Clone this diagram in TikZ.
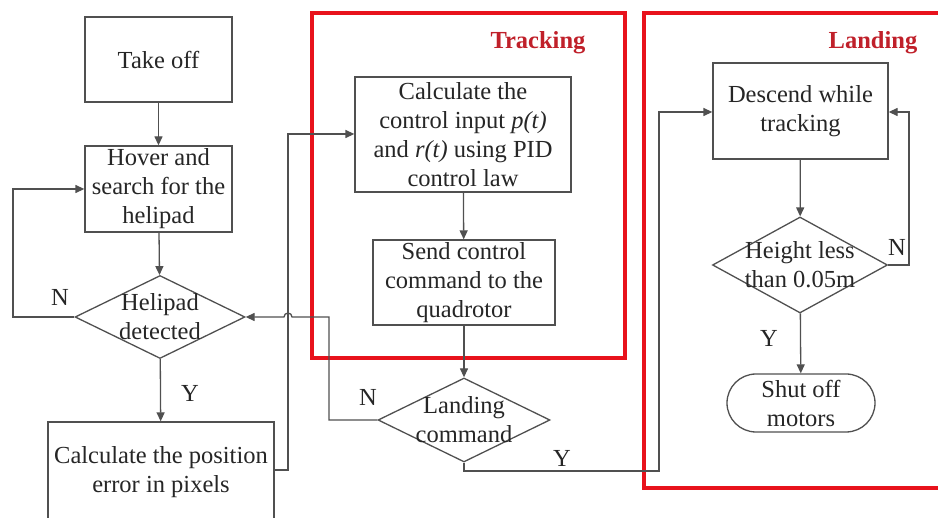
\documentclass[tikz,border=0pt]{standalone}
\usepackage{fontspec}
\setmainfont{Liberation Serif}
\usetikzlibrary{shapes.geometric,shapes.misc,arrows.meta}
\definecolor{linec}{HTML}{505050}
\definecolor{txtc}{HTML}{262626}
\definecolor{redbox}{HTML}{E8121C}
\definecolor{redtxt}{HTML}{C0202A}
\tikzset{
  txt/.style={text=txtc, font=\fontsize{24.5}{29}\selectfont, align=center, inner sep=0pt},
  box/.style={txt, draw=linec, line width=1.3pt, rectangle},
  dec/.style={draw=linec, line width=1.3pt, diamond, inner sep=0pt},
  term/.style={txt, draw=linec, line width=1.3pt, rounded rectangle},
  conn/.style={draw=linec, line width=1.3pt},
  arr/.style={conn, -{Triangle[length=9pt,width=8pt]}},
  frame/.style={draw=redbox, line width=3.2pt},
  ftitle/.style={text=redtxt, font=\fontsize{24.5}{29}\selectfont\bfseries, inner sep=0pt},
  yn/.style={txt}
}
\begin{document}
\begin{tikzpicture}[x=1pt,y=-1pt]
\useasboundingbox (0,0) rectangle (938,518);
\clip (0,0) rectangle (938,518);
\fill[white] (0,0) rectangle (938,518);
% red frames
\draw[frame] (312,13) rectangle (625,358);
\draw[frame] (644,13) rectangle (950,488);
\node[ftitle] (trk) at (538,43) {Tracking};
\node[ftitle] (lnd) at (873,43) {Landing};
% nodes
\node[box, minimum width=147pt, minimum height=85pt] (takeoff) at (158.5,59.5) {Take off};
\node[box, minimum width=147pt, minimum height=86pt] (hover) at (158.5,189) {Hover and\\search for the\\helipad};
\node[dec, minimum width=170pt, minimum height=83pt] (det) at (160,317) {};
\node[txt] (dett) at (160,317) {Helipad\\detected};
\node[box, minimum width=226pt, minimum height=100pt] (calcpos) at (161,472) {Calculate the position\\error in pixels};
\node[box, minimum width=216pt, minimum height=115pt] (ctrl) at (463,134.5) {Calculate the\\control input \textit{p(t)}\\and \textit{r(t)} using PID\\control law};
\node[box, minimum width=182pt, minimum height=85pt] (send) at (464,282.5) {Send control\\command to the\\quadrotor};
\node[dec, minimum width=172pt, minimum height=84pt] (lcmd) at (464,420) {};
\node[txt] (lcmdt) at (464,420) {Landing\\command};
\node[box, minimum width=175pt, minimum height=96pt] (desc) at (800.5,111) {Descend while\\tracking};
\node[dec, minimum width=175pt, minimum height=96pt] (hgt) at (800,265) {};
\node[txt] (hgtt) at (800,265) {Height less\\than 0.05m};
\node[term, minimum width=148pt, minimum height=58pt] (shut) at (801,403) {Shut off\\motors};
% labels
\node[yn] (n1) at (60,297) {N};
\node[yn] (y1) at (190,393) {Y};
\node[yn] (n2) at (368,397) {N};
\node[yn] (y2) at (562,458) {Y};
\node[yn] (n3) at (897,247) {N};
\node[yn] (y3) at (769,338) {Y};
% coordinates
\coordinate (a1) at (13,317);
\coordinate (a2) at (13,189);
\coordinate (b1) at (288,470);
\coordinate (b2) at (288,134);
\coordinate (c1) at (329,420);
\coordinate (c2) at (329,317);
\coordinate (j1) at (292,317);
\coordinate (d1) at (464,471);
\coordinate (d2) at (659,471);
\coordinate (d3) at (659,112);
\coordinate (e1) at (909,265);
\coordinate (e2) at (909,112);
% connectors
\draw[arr] (takeoff) -- (hover);
\draw[arr] (hover) -- (det);
\draw[arr] (det.west) -- (a1) -- (a2) -- (a2 -| hover.west);
\draw[arr] (det) -- (calcpos);
\draw[arr] (calcpos.east |- b1) -- (b1) -- (b2) -- (b2 -| ctrl.west);
\draw[arr] (ctrl) -- (send);
\draw[arr] (send) -- (lcmd);
\draw[arr] (lcmd.west) -- (c1) -- (c2) -- (j1) arc[start angle=0, end angle=180, radius=4pt] -- (det.east);
\draw[arr] (lcmd.south) -- (d1) -- (d2) -- (d3) -- (d3 -| desc.west);
\draw[arr] (desc) -- (hgt);
\draw[arr] (hgt.east) -- (e1) -- (e2) -- (e2 -| desc.east);
\draw[arr] (hgt) -- (shut);
\end{tikzpicture}
\end{document}
